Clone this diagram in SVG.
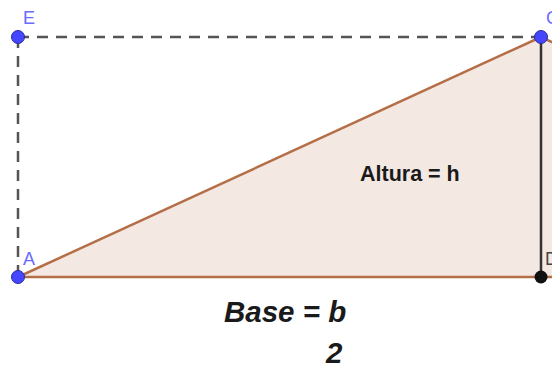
<svg xmlns="http://www.w3.org/2000/svg" width="552" height="365" viewBox="0 0 552 365">
<style>
.dash{stroke:#555;stroke-width:2.5;stroke-dasharray:11,8;fill:none}
.edge{stroke:#b56f48;stroke-width:2.5;fill:none}
.pt{fill:#4646ff;stroke:#2a2aa0;stroke-width:1}
.lbl{font-family:"Liberation Sans",Arial,sans-serif;font-size:18px;fill:#6a6aff}
.txt{font-family:"Liberation Sans",Arial,sans-serif;font-weight:bold;fill:#1a1a1a}
</style>
<rect width="552" height="365" fill="#fff"/>
<g id="fill">
<polygon points="18,277 541,37 541,277" fill="#f4e8e3"/>
<polygon points="541,37 565,48 565,277 541,277" fill="#f4e8e3"/>
</g>
<g id="connectors">
<line class="dash" x1="18" y1="37" x2="541" y2="37"/>
<line class="dash" x1="18" y1="37" x2="18" y2="277"/>
<line class="edge" x1="18" y1="277" x2="541" y2="37"/>
<line class="edge" x1="18" y1="277" x2="552" y2="277"/>
<line class="edge" x1="541" y1="37" x2="565" y2="48"/>
<line x1="541" y1="37" x2="541" y2="277" stroke="#333" stroke-width="2.5"/>
</g>
<g id="E"><circle class="pt" cx="18" cy="37" r="6.5"/><text class="lbl" x="23" y="24">E</text></g>
<g id="C"><circle class="pt" cx="541" cy="37" r="6.5"/><text class="lbl" x="546" y="24">C</text></g>
<g id="A"><circle class="pt" cx="18" cy="277" r="6.5"/><text class="lbl" x="23" y="265">A</text></g>
<g id="D"><circle cx="541" cy="277" r="6.5" fill="#111"/><text x="545" y="265" font-family="Liberation Sans,Arial,sans-serif" font-size="18" fill="#444">D</text></g>
<g id="labels">
<text class="txt" x="360" y="181" font-size="21.5">Altura = h</text>
<text class="txt" x="224" y="322" font-size="29.5" font-style="italic">Base = b</text>
<text class="txt" x="326" y="363" font-size="29.5" font-style="italic">2</text>
</g>
</svg>
